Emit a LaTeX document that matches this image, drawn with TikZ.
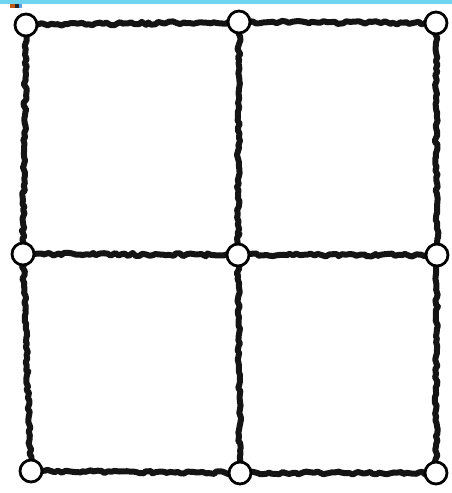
\documentclass[tikz,border=0pt]{standalone}
\usetikzlibrary{decorations.pathmorphing}
\definecolor{topbar}{RGB}{110,212,240}
\definecolor{markorange}{RGB}{190,90,20}
\definecolor{markblue}{RGB}{90,160,230}
\tikzset{
  vtx/.style={circle, draw=black, line width=2.8pt, fill=white, minimum size=22pt, inner sep=0pt},
  wig/.style={line width=6pt, black!92, line cap=round, line join=round,
    decorate, decoration={random steps, segment length=3.5pt, amplitude=1.5pt}}
}
\begin{document}
\begin{tikzpicture}[x=1pt,y=-1pt]
\useasboundingbox (0,0) rectangle (452,493);
\fill[white] (0,0) rectangle (452,493);
\fill[topbar] (0,0) rectangle (452,3.5);
\fill[markorange] (10,3.5) rectangle (15,7.5);
\fill[black!85] (15,3.5) rectangle (18.5,7.5);
\fill[markblue] (18.5,3.5) rectangle (22,7.5);
\pgfmathsetseed{7}
\coordinate (p11) at (26,25);
\coordinate (p12) at (239,22);
\coordinate (p13) at (436,23);
\coordinate (p21) at (23,254);
\coordinate (p22) at (238,255);
\coordinate (p23) at (437,255);
\coordinate (p31) at (31,471);
\coordinate (p32) at (240,473);
\coordinate (p33) at (436,473);
\draw[wig] (p11) -- (p12);
\draw[wig] (p12) -- (p13);
\draw[wig] (p21) -- (p22);
\draw[wig] (p22) -- (p23);
\draw[wig] (p31) -- (p32);
\draw[wig] (p32) -- (p33);
\draw[wig] (p11) -- (p21);
\draw[wig] (p21) -- (p31);
\draw[wig] (p12) -- (p22);
\draw[wig] (p22) -- (p32);
\draw[wig] (p13) -- (p23);
\draw[wig] (p23) -- (p33);
\node[vtx] (n11) at (p11) {};
\node[vtx] (n12) at (p12) {};
\node[vtx] (n13) at (p13) {};
\node[vtx] (n21) at (p21) {};
\node[vtx] (n22) at (p22) {};
\node[vtx] (n23) at (p23) {};
\node[vtx] (n31) at (p31) {};
\node[vtx] (n32) at (p32) {};
\node[vtx] (n33) at (p33) {};
\end{tikzpicture}
\end{document}
